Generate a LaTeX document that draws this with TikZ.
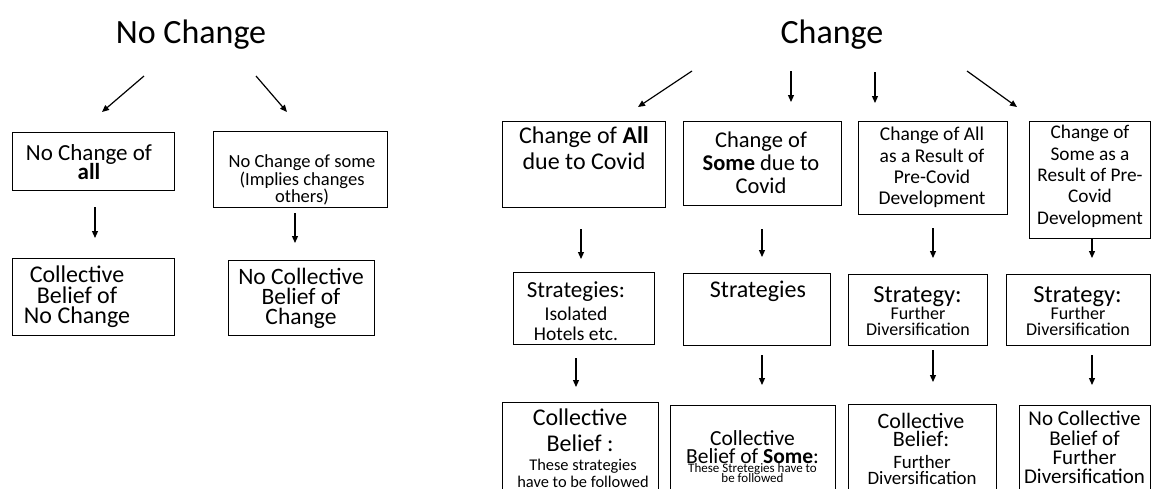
\documentclass[tikz,border=0pt]{standalone}
\usepackage{fontspec}
\setmainfont{Carlito}
\usetikzlibrary{arrows.meta}
% font size, line distance, and no extra skip between tightly set lines
\newcommand\setfs[2]{\fontsize{#1}{#2}\selectfont\lineskiplimit=-100pt\lineskip=0pt}

\begin{document}
\begin{tikzpicture}[x=1pt,y=-1pt,
  box/.style={draw=black, line width=0.8pt, inner sep=0pt},
  lbl/.style={inner sep=0pt, align=center, anchor=north},
  arr/.style={line width=1.2pt, -{Triangle[length=7pt,width=6pt]}}]
\useasboundingbox (0,0) rectangle (1152,488);
\clip (0,0) rectangle (1152,488);

% ---------- titles ----------
\node[lbl, font=\setfs{34}{40}] (ttlL) at (191,19.5) {No Change};
\node[lbl, font=\setfs{34}{40}] (ttlR) at (832,19.5) {Change};

% ---------- boxes: no change ----------
\node[box, minimum width=162pt, minimum height=58pt] (A) at (93,161) {};
\node[box, minimum width=174pt, minimum height=76pt] (B) at (300,169) {};
\node[box, minimum width=162pt, minimum height=77pt] (C) at (93,296.5) {};
\node[box, minimum width=146pt, minimum height=75pt] (D) at (301,297.5) {};

% ---------- boxes: change ----------
\node[box, minimum width=163pt, minimum height=86pt] (E) at (583.5,164) {};
\node[box, minimum width=158pt, minimum height=84pt] (F) at (762,163) {};
\node[box, minimum width=149pt, minimum height=93pt] (G) at (932.5,167.5) {};
\node[box, minimum width=121pt, minimum height=117pt] (H) at (1089.5,179.5) {};

\node[box, minimum width=141pt, minimum height=72pt] (I) at (583.5,308) {};
\node[box, minimum width=147pt, minimum height=72pt] (J) at (756.5,309) {};
\node[box, minimum width=139pt, minimum height=71pt] (M) at (917.5,309.5) {};
\node[box, minimum width=144pt, minimum height=71pt] (N) at (1078,309.5) {};

\node[box, minimum width=156pt, minimum height=98pt] (K) at (580,451) {};
\node[box, minimum width=165pt, minimum height=95pt] (L) at (752.5,452.5) {};
\node[box, minimum width=148pt, minimum height=96pt] (O) at (922,452) {};
\node[box, minimum width=131pt, minimum height=95pt] (P) at (1084.5,452.5) {};

% ---------- box texts ----------
\node[lbl, font=\setfs{23}{19}] (At) at (89,144.8) {No Change of\\\textbf{all}};
\node[lbl, font=\setfs{18.5}{17.5}] (Bt) at (302,154.8) {No Change of some\\(Implies changes\\others)};
\node[lbl, font=\setfs{24}{20.5}] (Ct) at (77,266) {Collective\\Belief of\\No Change};
\node[lbl, font=\setfs{23.5}{20}] (Dt) at (301,267.5) {No Collective\\Belief of\\Change};

\node[lbl, font=\setfs{24}{26}] (Et) at (584,126.2) {Change of \textbf{All}\\due to Covid};
\node[lbl, font=\setfs{22.5}{23}] (Ft) at (761,132.1) {Change of\\\textbf{Some} due to\\Covid};
\node[lbl, font=\setfs{19.5}{21.3}] (Gt) at (932,127.1) {Change of All\\as a Result of\\Pre-Covid\\Development};
\node[lbl, font=\setfs{19.3}{21.3}] (Ht) at (1090,125.3) {Change of\\Some as a\\Result of Pre-\\Covid\\Development};

\node[lbl, font=\setfs{23}{26}] (It1) at (576,281.8) {Strategies:};
\node[lbl, font=\setfs{19.5}{20}] (It2) at (576,307.1) {Isolated\\Hotels etc.};
\node[lbl, font=\setfs{24}{26}] (Jt) at (758,281.2) {Strategies};
\node[lbl, font=\setfs{24.5}{26}] (Mt1) at (917.5,286.8) {Strategy:};
\node[lbl, font=\setfs{18}{16}] (Mt2) at (918,307.1) {Further\\Diversification};
\node[lbl, font=\setfs{24.5}{26}] (Nt1) at (1077.5,286.8) {Strategy:};
\node[lbl, font=\setfs{18}{16}] (Nt2) at (1078,307.1) {Further\\Diversification};

\node[lbl, font=\setfs{24}{26}] (Kt1) at (580,408.2) {Collective\\Belief :};
\node[lbl, font=\setfs{16.4}{17}] (Kt2) at (583,459.2) {These strategies\\have to be followed};
\node[lbl, font=\setfs{21.5}{17.5}] (Lt1) at (752.5,430.8) {Collective\\Belief of \textbf{Some}:};
\node[lbl, font=\setfs{13}{9.5}] (Lt2) at (752.5,463.5) {These Stretegies have to\\be followed};
\node[lbl, font=\setfs{22}{17.5}] (Ot1) at (921,413.5) {Collective\\Belief:};
\node[lbl, font=\setfs{18.9}{16}] (Ot2) at (922,455.5) {Further\\Diversification};
\node[lbl, font=\setfs{21}{19.3}] (Pt) at (1084.5,411.1) {No Collective\\Belief of\\Further\\Diversification};

% ---------- arrow end points ----------
\coordinate (a1s) at (144,76);   \coordinate (a1e) at (102,112);
\coordinate (a2s) at (256,76);   \coordinate (a2e) at (287,112);
\coordinate (a3s) at (95,207);   \coordinate (a3e) at (95,238);
\coordinate (a4s) at (295,213);  \coordinate (a4e) at (295,243);

\coordinate (b1s) at (692,71);   \coordinate (b1e) at (638,107);
\coordinate (b2s) at (791,71);   \coordinate (b2e) at (791,102);
\coordinate (b3s) at (875,72);   \coordinate (b3e) at (875,103);
\coordinate (b4s) at (967,71);   \coordinate (b4e) at (1017,107);

\coordinate (c1s) at (581,229);  \coordinate (c1e) at (581,259);
\coordinate (c2s) at (762,229);  \coordinate (c2e) at (762,257);
\coordinate (c3s) at (933,228);  \coordinate (c3e) at (933,258);
\coordinate (c4s) at (1092,238); \coordinate (c4e) at (1092,258);

\coordinate (d1s) at (576,358);  \coordinate (d1e) at (576,387);
\coordinate (d2s) at (762,355);  \coordinate (d2e) at (762,385);
\coordinate (d3s) at (933,350);  \coordinate (d3e) at (933,382);
\coordinate (d4s) at (1092,355); \coordinate (d4e) at (1092,385);

% ---------- arrows ----------
\foreach \p in {a1,a2,a3,a4,b1,b2,b3,b4,c1,c2,c3,c4,d1,d2,d3,d4}
  \draw[arr] (\p s) -- (\p e);
\end{tikzpicture}
\end{document}
